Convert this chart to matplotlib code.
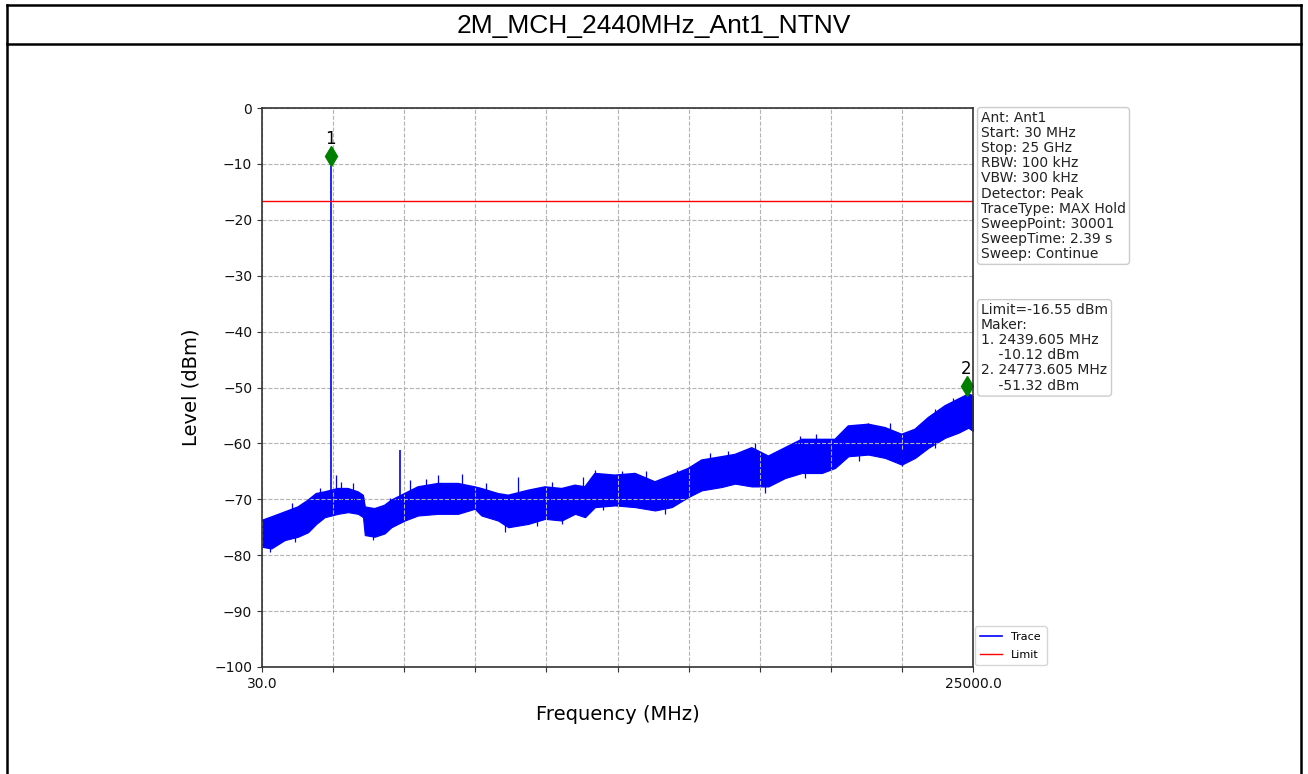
import matplotlib
matplotlib.use("Agg")
import matplotlib.pyplot as plt
from matplotlib.lines import Line2D

# band of the max-hold trace (MHz, dBm)
band_freq = [30, 357, 827, 1294, 1646, 1937, 2232, 2699, 3050, 3402,
             3577, 3640, 3988, 4339, 4572, 5041, 5509, 6211, 6914, 7500,
             7734, 8318, 8680, 9383, 9969, 10555, 11023, 11374, 11725, 12428,
             13130, 13832, 14418, 15003, 15472, 16174, 16642, 17228, 17813, 18399,
             18984, 19687, 20155, 20622, 21325, 21910, 22496, 22964, 23432, 24017,
             24485, 24836, 25000]
band_upper = [-73.8, -73.2, -72.3, -71.4, -70.2, -69.0, -68.7, -68.1, -68.1, -68.7,
              -69.3, -71.4, -71.7, -71.1, -70.2, -69.0, -67.8, -67.2, -67.2, -67.8,
              -68.1, -69.0, -69.3, -68.4, -67.8, -68.1, -67.5, -67.8, -65.4, -65.7,
              -65.4, -66.9, -65.7, -64.5, -63.0, -62.4, -62.0, -60.8, -62.3, -60.8,
              -59.3, -59.3, -59.3, -56.9, -56.6, -57.2, -58.4, -57.5, -55.4, -53.3,
              -52.1, -51.2, -51.5]
band_lower = [-78.5, -78.8, -77.3, -76.7, -75.9, -74.4, -73.2, -72.6, -72.3, -72.6,
              -73.2, -76.4, -76.7, -76.1, -75.0, -73.8, -72.9, -72.6, -72.6, -71.7,
              -72.9, -73.8, -75.0, -74.4, -73.5, -73.8, -72.6, -73.2, -71.4, -71.1,
              -71.4, -72.0, -71.4, -69.6, -68.4, -67.8, -67.2, -67.7, -67.7, -66.2,
              -65.3, -65.3, -64.4, -62.3, -62.0, -62.6, -63.8, -62.6, -60.8, -59.0,
              -58.1, -57.2, -57.8]

# tall emissions (carrier and 2nd harmonic)
peak_freq = [2439.605, 4877]
peak_top = [-8.6, -61.2]
peak_base = [-70.0, -71.0]

# small noise spikes sticking out of the band
spike_freq = [2056, 2640, 3226, 4515, 5217, 6211, 7054, 9031, 11315, 11725,
              12663, 14594, 15764, 16385, 17344, 18925, 20389, 21325, 23666, 24310,
              24836, 1100, 2820, 5800, 7900, 10200, 13500, 19500, 22100]
spike_top = [-67.9, -65.6, -67.1, -69.7, -66.6, -65.7, -65.4, -66.1, -66.0, -64.7,
             -64.9, -64.8, -61.7, -61.4, -59.9, -58.6, -58.7, -56.3, -53.9, -51.8,
             -50.6, -70.6, -66.9, -66.4, -67.0, -66.9, -65.0, -58.3, -56.4]
dip_freq = [300, 1177, 3928, 8564, 9700, 10555, 12000, 14184, 17696, 19103,
            21000, 22496, 23666]
dip_bottom = [-79.4, -77.6, -77.3, -75.9, -74.8, -74.4, -72.0, -72.6, -68.9, -66.2,
              -63.2, -64.1, -60.8]

limit = -16.55
marker_freq = [2439.605, 24773.605]
marker_level = [-8.6, -49.8]
marker_names = ["1", "2"]

info_lines = ["Ant: Ant1", "Start: 30 MHz", "Stop: 25 GHz", "RBW: 100 kHz",
              "VBW: 300 kHz", "Detector: Peak", "TraceType: MAX Hold",
              "SweepPoint: 30001", "SweepTime: 2.39 s", "Sweep: Continue"]
marker_lines = ["Limit=-16.55 dBm", "Maker:", "1. 2439.605 MHz", "    -10.12 dBm",
                "2. 24773.605 MHz", "    -51.32 dBm"]

f_start, f_stop = 30.0, 25000.0

W, H = 1308, 774
fig = plt.figure(figsize=(W / 100, H / 100), dpi=100)

# report frame with header row
frame = dict(color="black", linewidth=1.8, transform=fig.transFigure)
fig.add_artist(Line2D([7 / W, 1301 / W], [1 - 4.5 / H, 1 - 4.5 / H], **frame))
fig.add_artist(Line2D([7 / W, 1301 / W], [1 - 44 / H, 1 - 44 / H], **frame))
fig.add_artist(Line2D([7 / W, 7 / W], [0, 1 - 4.5 / H], **frame))
fig.add_artist(Line2D([1301 / W, 1301 / W], [0, 1 - 4.5 / H], **frame))
fig.text(0.5, 1 - 26 / H, "2M_MCH_2440MHz_Ant1_NTNV", ha="center", va="center",
         fontsize=19, family="Liberation Sans")

ax = fig.add_axes([262 / W, 1 - 667 / H, 711 / W, 559 / H])

ax.fill_between(band_freq, band_lower, band_upper, color="blue", linewidth=0.8)
ax.plot(band_freq, band_upper, color="blue", linewidth=1.2, label="Trace")
ax.vlines(peak_freq, peak_base, peak_top, color="blue", linewidth=1.2)
ax.vlines(spike_freq, [t - 3 for t in spike_top], spike_top, color="blue", linewidth=0.9)
ax.vlines(dip_freq, dip_bottom, [b + 3 for b in dip_bottom], color="blue", linewidth=0.9)
ax.axhline(limit, color="red", linewidth=1.0, label="Limit")

ax.plot(marker_freq, marker_level, linestyle="none", marker="d", markersize=10,
        color="green")
for f, lv, name in zip(marker_freq, marker_level, marker_names):
    ax.annotate(name, (f, lv), xytext=(0, 6), textcoords="offset points",
                ha="center", va="bottom", fontsize=12)

ax.set_xlim(f_start, f_stop)
ax.set_ylim(-100, 0)
step = (f_stop - f_start) / 10
xt = [f_start + i * step for i in range(11)]
ax.set_xticks(xt)
ax.set_xticklabels(["30.0"] + [""] * 9 + ["25000.0"])
ax.set_yticks(range(-100, 1, 10))
ax.tick_params(labelsize=10, color="#333333", labelcolor="#111111")
for sp in ax.spines.values():
    sp.set_color("#333333")
    sp.set_linewidth(1.2)
ax.grid(True, linestyle="--", color="0.7", linewidth=0.8)
ax.set_xlabel("Frequency (MHz)", fontsize=14, labelpad=10)
ax.set_ylabel("Level (dBm)", fontsize=14, labelpad=10)

box = dict(boxstyle="round,pad=0.25", facecolor="white", edgecolor="0.8")
ax.text(1.0113, 0.9946, "\n".join(info_lines), transform=ax.transAxes,
        ha="left", va="top", fontsize=10, linespacing=1.1, bbox=box, color="#222222")
ax.text(1.0113, 0.651, "\n".join(marker_lines), transform=ax.transAxes,
        ha="left", va="top", fontsize=10, linespacing=1.1, bbox=box, color="#222222")
ax.legend(loc="lower left", bbox_to_anchor=(1.0, 0.0), fontsize=8,
          labelspacing=0.7, borderpad=0.5, borderaxespad=0.15)

fig.savefig("out.png", dpi=100)
plt.close(fig)
